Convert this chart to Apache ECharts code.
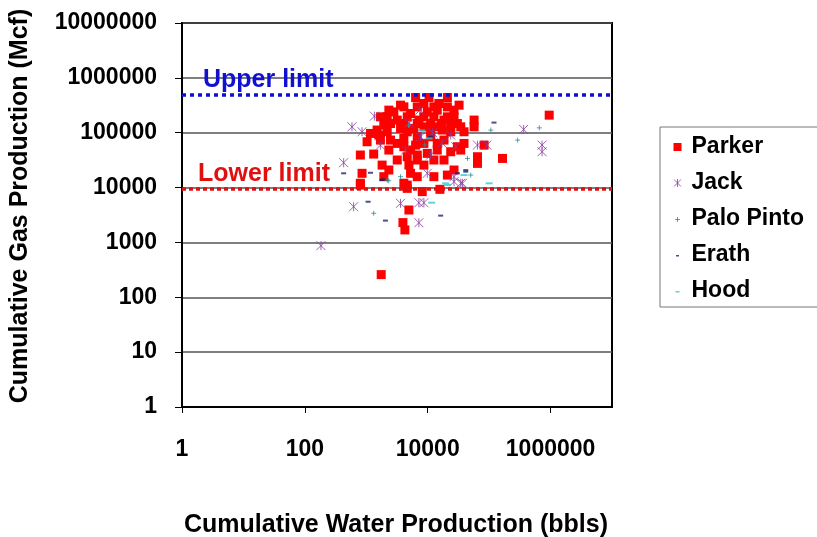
<!DOCTYPE html>
<html><head><meta charset="utf-8">
<script src="https://cdn.jsdelivr.net/npm/echarts@6/dist/echarts.min.js"></script>
<style>html,body{margin:0;padding:0;background:#fff}#c{width:817px;height:537px}</style>
</head><body><div id="c"></div>
<script>
const seriesNames = ['Parker', 'Jack', 'Palo Pinto', 'Erath', 'Hood'];
const xTicks = [1, 100, 10000, 1000000];
const yTicks = [1, 10, 100, 1000, 10000, 100000, 1000000, 10000000];
const upperLimit = 500000;
const lowerLimit = 9500;

const parker = [
  [6350, 438000], [10500, 438000], [20900, 438000], [8670, 341000], [32400, 318000],
  [3610, 318000], [2330, 258000], [5260, 224000], [14300, 258000], [56900, 170000],
  [950000, 209000], [2190, 195000], [1930, 138000], [1500, 112000], [1170, 97000],
  [3190, 170000], [4640, 195000], [7190, 170000], [12600, 195000], [18400, 170000],
  [26800, 195000], [34500, 128000], [56900, 128000], [3610, 120000], [5960, 120000],
  [8670, 128000], [14300, 128000], [23700, 138000], [1030, 68400], [1700, 73400],
  [2480, 73400], [4090, 78700], [6760, 84400], [11200, 84400], [18400, 73400],
  [30400, 55500], [82800, 59500], [4090, 55500], [6350, 59500], [801, 39200],
  [1320, 40800], [2330, 48300], [4640, 36500], [6760, 39200], [9840, 42000],
  [23700, 45000], [64600, 36500], [165000, 34000], [64600, 27600], [1810, 25700],
  [2330, 20900], [853, 18200], [801, 12000], [4940, 25700], [8670, 25700],
  [5260, 18200], [26800, 20900], [20900, 16900], [4090, 12000], [4640, 9680],
  [8150, 8430], [15800, 9290], [4940, 3900], [3950, 2300], [4250, 1690],
  [1750, 259], [4640, 11100], [801, 11100], [2810, 240000], [1600, 90400],
  [9840, 240000], [15200, 341000], [26800, 258000], [11200, 147000], [17300, 112000],
  [4090, 296000], [6760, 296000], [12600, 296000], [20900, 296000], [1700, 195000],
  [8670, 195000], [20900, 195000], [2480, 147000], [4090, 147000], [6760, 147000],
  [16700, 147000], [30400, 147000], [2190, 104000], [4640, 104000], [11200, 104000],
  [23700, 104000], [39000, 104000], [3190, 63800], [8670, 63800], [14300, 63800],
  [39000, 63800], [5260, 48300], [14300, 48300], [34500, 48300], [3190, 31800],
  [6760, 31800], [12600, 31800], [18400, 31800], [1930, 15800], [6760, 15800],
  [12600, 15800]
];
const jack = [
  [1355, 200500], [585, 128000], [853, 104000], [7460, 258000], [364600, 114800],
  [727000, 59500], [727000, 45000], [91600, 59500], [64500, 59500], [428, 28400],
  [9840, 18200], [26800, 15800], [34500, 12000], [1698, 59400], [4355, 48200],
  [11150, 39100], [7650, 84400], [622, 4480], [3609, 5160], [7180, 5300],
  [8670, 5300], [7180, 2290], [183, 875], [23660, 90400], [28600, 55300],
  [26800, 12800], [36700, 11970], [5000, 150000], [12000, 100000], [17000, 65000]
];
const paloPinto = [
  [106600, 111500], [291000, 73300], [656000, 122700], [44400, 34000], [2190, 13700],
  [3610, 15800], [50200, 16900], [2320, 13300], [1320, 3400], [4875, 137000], [9000, 60000]
];
const erath = [
  [120000, 153000], [428, 18200], [1850, 14100], [41600, 19500], [1070, 5520],
  [2050, 2500], [16250, 3080], [1170, 18600], [1810, 13700], [41600, 20800],
  [30500, 18200], [11150, 84400]
];
const hood = [
  [100000, 11970], [20900, 11150], [39000, 16900], [11580, 5300], [19600, 11950],
  [10500, 78700], [8000, 110000]
];

const FONT = 'Liberation Sans, Arial, sans-serif';
const colors = { parker: '#FF0000', jack: '#8A3C9E', palo: '#2B8F8F', erath: '#20206E', hood: '#38C8D0' };
const fmt = v => String(Math.round(v));

const chart = echarts.init(document.getElementById('c'), null, { renderer: 'canvas' });
chart.setOption({
  animation: false,
  backgroundColor: '#fff',
  grid: { left: 182, right: 205, top: 23, bottom: 130, show: true, borderColor: '#000', borderWidth: 2, containLabel: false },
  xAxis: {
    type: 'log', logBase: 10, min: 1, max: 10000000,
    axisLine: { show: true, lineStyle: { color: '#000', width: 2 } },
    axisTick: { show: true, customValues: xTicks, length: 6, lineStyle: { color: '#000', width: 1 } },
    axisLabel: { customValues: xTicks, formatter: fmt, margin: 31, fontFamily: FONT, fontWeight: 'bold', fontSize: 23, color: '#000' },
    splitLine: { show: false }, minorTick: { show: false }
  },
  yAxis: {
    type: 'log', logBase: 10, min: 1, max: 10000000,
    axisLine: { show: true, lineStyle: { color: '#000', width: 2 } },
    axisTick: { show: true, customValues: yTicks, length: 7, lineStyle: { color: '#000', width: 1 } },
    axisLabel: { customValues: yTicks, formatter: fmt, margin: 25, fontFamily: FONT, fontWeight: 'bold', fontSize: 23, color: '#000' },
    splitLine: { show: true, lineStyle: { color: '#555', width: 1.5 } }
  },
  legend: {
    orient: 'vertical', left: 660, top: 127,
    padding: [8, 60, 4, 12], itemGap: 12, itemWidth: 10, itemHeight: 10,
    borderColor: '#777', borderWidth: 1, backgroundColor: '#fff',
    textStyle: { fontFamily: FONT, fontWeight: 'bold', fontSize: 23, color: '#000', lineHeight: 24, padding: [0, 0, 0, 4] },
    data: [
      { name: 'Parker', icon: 'path://M0,0M10,10M1,1L9,1L9,9L1,9Z', itemStyle: { color: colors.parker } },
      { name: 'Jack', icon: 'path://M0,0M10,10M1.5,1.5L8.5,8.5M8.5,1.5L1.5,8.5M5,1L5,9', itemStyle: { color: 'rgba(0,0,0,0)', borderColor: colors.jack, borderWidth: 1 } },
      { name: 'Palo Pinto', icon: 'path://M0,0M10,10M5,3L5,8M2.5,5.5L7.5,5.5', itemStyle: { color: 'rgba(0,0,0,0)', borderColor: colors.palo, borderWidth: 1 } },
      { name: 'Erath', icon: 'path://M0,0M10,10M3.5,5L6.5,5L6.5,6.5L3.5,6.5Z', itemStyle: { color: colors.erath } },
      { name: 'Hood', icon: 'path://M0,0M10,10M3,5L7,5L7,6.5L3,6.5Z', itemStyle: { color: colors.hood } }
    ]
  },
  graphic: [
    { type: 'text', x: 20, y: 206, rotation: Math.PI / 2,
      style: { text: 'Cumulative Gas Production (Mcf)', font: 'bold 25px ' + FONT, fill: '#000', align: 'center', verticalAlign: 'middle', textAlign: 'center', textVerticalAlign: 'middle' } },
    { type: 'text', x: 396, y: 525,
      style: { text: 'Cumulative Water Production (bbls)', font: 'bold 25px ' + FONT, fill: '#000', align: 'center', verticalAlign: 'middle', textAlign: 'center', textVerticalAlign: 'middle' } }
  ],
  series: [
    {
      name: seriesNames[0], type: 'scatter', data: parker, symbol: 'rect', symbolSize: 9,
      itemStyle: { color: colors.parker, opacity: 1 },
      markLine: {
        silent: true, symbol: ['none', 'none'], animation: false,
        data: [
          { yAxis: upperLimit, lineStyle: { color: '#1010D0', width: 3.5, type: [4, 4] },
            label: { show: true, position: 'insideStartTop', formatter: 'Upper limit', distance: [21, 2], color: '#1010D0', fontFamily: FONT, fontWeight: 'bold', fontSize: 25 } },
          { yAxis: lowerLimit, lineStyle: { color: '#E01010', width: 3.5, type: [4, 3] },
            label: { show: true, position: 'insideStartTop', formatter: 'Lower limit', distance: [16, 2], color: '#E01010', fontFamily: FONT, fontWeight: 'bold', fontSize: 25 } }
        ]
      }
    },
    {
      name: seriesNames[1], type: 'scatter', data: jack,
      symbol: 'path://M0,0L10,10M10,0L0,10M5,0L5,10', symbolSize: 9,
      itemStyle: { color: 'rgba(0,0,0,0)', borderColor: colors.jack, borderWidth: 1 }
    },
    {
      name: seriesNames[2], type: 'scatter', data: paloPinto,
      symbol: 'path://M5,0L5,10M0,5L10,5', symbolSize: 5,
      itemStyle: { color: 'rgba(0,0,0,0)', borderColor: colors.palo, borderWidth: 1 }
    },
    {
      name: seriesNames[3], type: 'scatter', data: erath, symbol: 'rect', symbolSize: [5, 2],
      itemStyle: { color: colors.erath }
    },
    {
      name: seriesNames[4], type: 'scatter', data: hood, symbol: 'rect', symbolSize: [7, 2],
      itemStyle: { color: colors.hood }
    }
  ]
});
</script></body></html>
